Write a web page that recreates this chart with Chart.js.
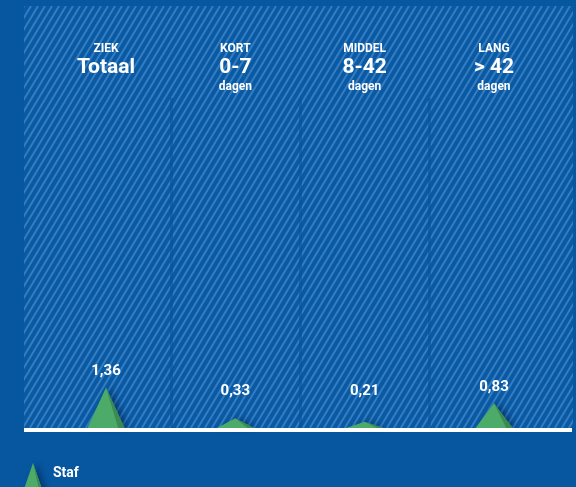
<!DOCTYPE html>
<html>
<head>
<meta charset="utf-8">
<script src="https://cdn.jsdelivr.net/npm/chart.js@4/dist/chart.umd.min.js"></script>
<style>
  html, body { margin: 0; padding: 0; background: #0757a0; }
  #wrap { width: 576px; height: 487px; position: relative; }
</style>
</head>
<body>
<div id="wrap"><canvas id="chart"></canvas></div>
<script>
// ziekteverzuim per duurklasse
const categories = ['Totaal', '0-7', '8-42', '> 42'];
const groupLabels = ['ZIEK', 'KORT', 'MIDDEL', 'LANG'];
const unitLabels = ['', 'dagen', 'dagen', 'dagen'];
const stafValues = [1.36, 0.33, 0.21, 0.83];
const seriesName = 'Staf';

const GREEN = '#4dab69';
const GREEN_DARK = '#3a8a52';
const FONT = 'Roboto, "DejaVu Sans", sans-serif';

const fmt = v => v.toFixed(2).replace('.', ',');

function triangle(ctx, x, y, base, half) {
    ctx.save();
    ctx.shadowColor = 'rgba(0, 20, 60, 0.45)';
    ctx.shadowBlur = 6;
    ctx.shadowOffsetX = 4;
    ctx.fillStyle = GREEN;
    ctx.beginPath();
    ctx.moveTo(x, y);
    ctx.lineTo(x - half, base);
    ctx.lineTo(x + half, base);
    ctx.closePath();
    ctx.fill();
    ctx.restore();
    // schaduwzijde rechts
    ctx.fillStyle = GREEN_DARK;
    ctx.beginPath();
    ctx.moveTo(x, y);
    ctx.lineTo(x + half * 0.66, base);
    ctx.lineTo(x + half, base);
    ctx.closePath();
    ctx.fill();
}

const backdrop = {
    id: 'backdrop',
    beforeDraw(chart) {
        const { ctx, chartArea: { left, right, top, bottom } } = chart;
        ctx.save();
        ctx.fillStyle = '#0a5aa3';
        ctx.fillRect(left, top, right - left, bottom - top);
        ctx.beginPath();
        ctx.rect(left, top, right - left, bottom - top);
        ctx.clip();
        // diagonale arcering
        ctx.strokeStyle = 'rgba(95, 160, 225, 0.5)';
        ctx.lineWidth = 2;
        const lean = (bottom - top) * 0.6;
        ctx.beginPath();
        for (let x = left - lean; x < right + 7; x += 7) {
            ctx.moveTo(x, bottom);
            ctx.lineTo(x + lean, top);
        }
        ctx.stroke();
        // scheidingslijnen tussen de klassen
        const xs = chart.scales.x;
        ctx.strokeStyle = 'rgba(7, 82, 155, 0.6)';
        ctx.lineWidth = 3;
        ctx.beginPath();
        for (let i = 0; i < categories.length - 1; i++) {
            const px = Math.round(xs.getPixelForValue(i + 0.5)) + 0.5;
            ctx.moveTo(px, top + 92);
            ctx.lineTo(px, bottom);
        }
        ctx.stroke();
        ctx.restore();
    },
    beforeDatasetDraw(chart, args) {
        const { ctx } = chart;
        args.meta.data.forEach(el => {
            triangle(ctx, el.x, el.y, el.base, el.width / 2);
        });
        return false;
    },
    afterDraw(chart) {
        const { ctx, chartArea: { left, right, bottom } } = chart;
        const xs = chart.scales.x;
        ctx.save();
        // basislijn
        ctx.fillStyle = '#ffffff';
        ctx.fillRect(left, bottom, right - left - 1, 4);

        ctx.textAlign = 'center';
        ctx.textBaseline = 'middle';
        categories.forEach((c, i) => {
            const px = xs.getPixelForValue(i);
            ctx.font = 'bold 12px ' + FONT;
            ctx.fillText(groupLabels[i], px, 49);
            ctx.font = 'bold 21px ' + FONT;
            ctx.fillText(c, px, 68);
            if (unitLabels[i]) {
                ctx.font = 'bold 12px ' + FONT;
                ctx.fillText(unitLabels[i], px, 87);
            }
        });

        // waardelabels
        const meta = chart.getDatasetMeta(0);
        ctx.font = 'bold 15px ' + FONT;
        meta.data.forEach((el, i) => {
            const y = Math.min(el.y - 16, el.base - 37);
            ctx.fillText(fmt(stafValues[i]), el.x, y);
        });

        // legenda
        triangle(ctx, 33, 463, 492, 10);
        ctx.fillStyle = '#ffffff';
        ctx.textAlign = 'left';
        ctx.font = 'bold 14px ' + FONT;
        ctx.fillText(chart.data.datasets[0].label, 53, 473);
        ctx.restore();
    }
};

new Chart(document.getElementById('chart'), {
    type: 'bar',
    data: {
        datasets: [{
            label: seriesName,
            data: stafValues.map((v, i) => ({ x: i, y: v })),
            backgroundColor: GREEN,
            barThickness: 37
        }]
    },
    options: {
        responsive: true,
        maintainAspectRatio: false,
        animation: false,
        layout: { padding: { left: 24, right: 3, top: 6, bottom: 59 } },
        plugins: {
            legend: { display: false },
            tooltip: { enabled: false }
        },
        scales: {
            x: { type: 'linear', min: -0.634, max: 3.611, offset: false, display: false },
            y: { min: 0, max: 14.2, display: false }
        }
    },
    plugins: [backdrop]
});
</script>
</body>
</html>
